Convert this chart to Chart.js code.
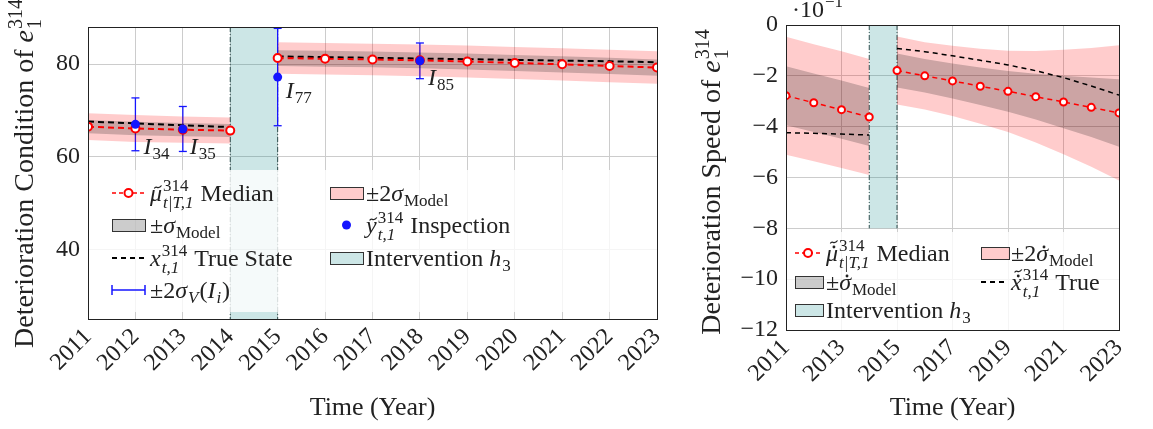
<!DOCTYPE html>
<html>
<head>
<meta charset="utf-8">
<script src="https://cdn.jsdelivr.net/npm/chart.js@4.4.0/dist/chart.umd.min.js"></script>
<style>
  html, body { margin: 0; padding: 0; background: #fff; width: 1153px; height: 429px; overflow: hidden; }
  canvas { position: absolute; top: 0; }
  #cond { left: 0; }
  #speed { left: 695px; }
</style>
</head>
<body>
<canvas id="cond" width="700" height="429"></canvas>
<canvas id="speed" width="458" height="429"></canvas>
<script>
// time axis shared by both panels
const years = [2011, 2012, 2013, 2014, 2015, 2016, 2017, 2018, 2019, 2020, 2021, 2022, 2023];
const interventionYears = [2014, 2015];
const SPLIT = 4; // first index after the intervention

// left panel: deterioration condition
const condMedian = [66.5, 66.1, 65.85, 65.65, 81.3, 81.15, 81.0, 80.8, 80.55, 80.25, 79.95, 79.6, 79.25];
const condTrue = [67.6, 67.2, 66.8, 66.4, 81.65, 81.5, 81.35, 81.2, 81.05, 80.9, 80.75, 80.6, 80.4];
const condSigma = [1.45, 1.45, 1.42, 1.4, 1.7, 1.7, 1.7, 1.72, 1.72, 1.73, 1.74, 1.75, 1.75];
const inspYears = [2012, 2013, 2015, 2018];
const inspValues = [67.0, 66.0, 77.2, 80.7];
const inspErr = [5.7, 4.85, 10.5, 3.85];
const inspNames = ['34', '35', '77', '85'];
const condYTicks = [40, 60, 80];
const condXTicks = years;

// right panel: deterioration speed (x 10^-1)
const speedMedian = [-2.78, -3.06, -3.33, -3.62, -1.79, -2.0, -2.2, -2.41, -2.61, -2.82, -3.03, -3.24, -3.46];
const speedTrue = [-4.24, -4.26, -4.29, -4.33, -0.92, -1.05, -1.21, -1.39, -1.57, -1.8, -2.07, -2.4, -2.76];
const speedSigma = [1.16, 1.15, 1.15, 1.14, 0.67, 0.66, 0.69, 0.74, 0.8, 0.9, 1.03, 1.17, 1.33];
const speedYTicks = [-12, -10, -8, -6, -4, -2, 0];
const speedXTicks = [2011, 2013, 2015, 2017, 2019, 2021, 2023];

const SERIF = '"Liberation Serif", "Times New Roman", serif';
const TXT = '#222';
const PINK = 'rgba(255,0,0,0.2)';
const GREY = 'rgba(0,0,0,0.2)';
const TEAL = 'rgba(0,128,128,0.2)';
const BLUE = 'rgb(20,20,255)';
const LEGEND_SIZE = 24;

const fontOf = (size, italic) => (italic ? 'italic ' : '') + size + 'px ' + SERIF;

// small accents (dot, tilde) stacked over a glyph
function accents(ctx, list, cx, top, size) {
  let yy = top;
  list.forEach(a => {
    if (a === 'dot') {
      ctx.beginPath();
      ctx.arc(cx, yy - 1.5, size * 0.06, 0, Math.PI * 2);
      ctx.fill();
      yy -= 5;
    } else {
      const w = size * 0.3;
      ctx.save();
      ctx.strokeStyle = ctx.fillStyle;
      ctx.lineWidth = 1.2;
      ctx.beginPath();
      ctx.moveTo(cx - w / 2, yy);
      ctx.bezierCurveTo(cx - w / 4, yy - 4, cx, yy + 2, cx + w / 2, yy - 3);
      ctx.stroke();
      ctx.restore();
      yy -= 5;
    }
  });
}

// text with stacked super/subscripts, returns its width
function rich(ctx, x, y, parts, size, dry) {
  const small = Math.round(size * 0.7);
  let cx = x;
  ctx.textAlign = 'left';
  ctx.textBaseline = 'alphabetic';
  parts.forEach(p => {
    if (p.t !== undefined) {
      ctx.font = fontOf(size, p.i);
      const w = ctx.measureText(p.t).width;
      if (!dry) {
        ctx.fillText(p.t, cx, y);
        if (p.acc) accents(ctx, p.acc, cx + w / 2 + size * 0.08, y - size * 0.52, size);
      }
      cx += w;
    } else {
      let w = 0;
      if (p.sup !== undefined) {
        ctx.font = fontOf(small, false);
        if (!dry) ctx.fillText(p.sup, cx + 1, y - size * 0.4);
        w = Math.max(w, ctx.measureText(p.sup).width);
      }
      if (p.sub !== undefined) {
        ctx.font = fontOf(small, p.subI);
        if (!dry) ctx.fillText(p.sub, cx + 1, y + size * (p.sup !== undefined ? 0.28 : 0.2));
        w = Math.max(w, ctx.measureText(p.sub).width);
      }
      cx += w + 2;
    }
  });
  return cx - x;
}

function seg(ctx, x1, y1, x2, y2) {
  ctx.beginPath();
  ctx.moveTo(x1, y1);
  ctx.lineTo(x2, y2);
  ctx.stroke();
}

function drawSymbol(ctx, kind, x, y, w, color) {
  ctx.save();
  if (kind === 'median') {
    ctx.strokeStyle = 'red';
    ctx.lineWidth = 1.5;
    ctx.setLineDash([4, 3]);
    seg(ctx, x, y, x + w, y);
    ctx.setLineDash([]);
    ctx.beginPath();
    ctx.arc(x + w / 2, y, 4, 0, Math.PI * 2);
    ctx.fillStyle = '#fff';
    ctx.fill();
    ctx.lineWidth = 2;
    ctx.stroke();
  } else if (kind === 'dash') {
    ctx.strokeStyle = '#000';
    ctx.lineWidth = 1.8;
    ctx.setLineDash([5, 4]);
    seg(ctx, x, y, x + w, y);
  } else if (kind === 'err') {
    ctx.strokeStyle = BLUE;
    ctx.lineWidth = 1.5;
    seg(ctx, x, y, x + w, y);
    seg(ctx, x, y - 5, x, y + 5);
    seg(ctx, x + w, y - 5, x + w, y + 5);
  } else if (kind === 'dot') {
    ctx.fillStyle = BLUE;
    ctx.beginPath();
    ctx.arc(x + w / 2, y, 4.5, 0, Math.PI * 2);
    ctx.fill();
  } else {
    ctx.fillStyle = color;
    ctx.fillRect(x, y - 6, w, 12);
    ctx.strokeStyle = '#333';
    ctx.lineWidth = 1;
    ctx.strokeRect(x + 0.5, y - 5.5, w, 12);
  }
  ctx.restore();
}

// intervention band, error bars, labels, legend, frame and y title
const deco = cfg => ({
  id: 'deco',
  beforeDatasetsDraw(chart) {
    const { ctx, chartArea: a, scales: { x, y } } = chart;
    const x1 = x.getPixelForValue(interventionYears[0]);
    const x2 = x.getPixelForValue(interventionYears[1]);
    const yb = cfg.bandBottom !== undefined ? y.getPixelForValue(cfg.bandBottom) : a.bottom;
    ctx.save();
    ctx.fillStyle = TEAL;
    ctx.fillRect(x1, a.top, x2 - x1, yb - a.top);
    ctx.strokeStyle = '#2f4f4f';
    ctx.lineWidth = 1;
    ctx.setLineDash([5, 2, 1, 2]);
    [x1, x2].forEach(px => seg(ctx, px, a.top, px, yb));
    ctx.setLineDash([]);
    if (cfg.errorBars) {
      ctx.strokeStyle = BLUE;
      ctx.lineWidth = 1.3;
      inspYears.forEach((yr, i) => {
        const px = x.getPixelForValue(yr);
        const top = y.getPixelForValue(inspValues[i] + inspErr[i]);
        const bot = y.getPixelForValue(inspValues[i] - inspErr[i]);
        seg(ctx, px, top, px, bot);
        seg(ctx, px - 4, top, px + 4, top);
        seg(ctx, px - 4, bot, px + 4, bot);
      });
    }
    ctx.restore();
  },
  afterDatasetsDraw(chart) {
    const { ctx, chartArea: a, scales: { x, y } } = chart;
    ctx.save();
    ctx.fillStyle = TXT;
    if (cfg.labelOffsets) {
      inspYears.forEach((yr, i) => {
        const [dx, dy] = cfg.labelOffsets[i];
        rich(ctx, x.getPixelForValue(yr) + dx, y.getPixelForValue(inspValues[i]) + dy,
          [{ t: 'I', i: 1 }, { sub: inspNames[i] }], 24);
      });
    }
    const [bx, by, bw, bh] = cfg.legendBox;
    ctx.fillStyle = 'rgba(255,255,255,0.8)';
    ctx.fillRect(bx, by, bw, bh);
    cfg.legend.forEach(it => {
      drawSymbol(ctx, it.sym, it.x, it.y, it.w, it.color);
      ctx.fillStyle = TXT;
      rich(ctx, it.tx, it.y + 8, it.parts, LEGEND_SIZE);
    });
    ctx.strokeStyle = '#222';
    ctx.lineWidth = 1;
    ctx.strokeRect(a.left + 0.5, a.top + 0.5, a.right - a.left, a.bottom - a.top);
    // rotated y title
    ctx.fillStyle = TXT;
    const w = rich(ctx, 0, 0, cfg.title, 28, true);
    ctx.translate(cfg.titleX, (a.top + a.bottom) / 2 + (cfg.titleShift || 0));
    ctx.rotate(-Math.PI / 2);
    rich(ctx, -w / 2, 28 * 0.3, cfg.title, 28);
    ctx.restore();
    if (cfg.extra) {
      ctx.save();
      ctx.fillStyle = TXT;
      rich(ctx, cfg.extra.x, cfg.extra.y, cfg.extra.parts, 24);
      ctx.restore();
    }
  }
});

const pts = (vals, from, to) => years.slice(from, to).map((x, i) => ({ x, y: vals[from + i] }));
const shifted = (vals, sig, k) => vals.map((v, i) => v + k * sig[i]);

function buildDatasets(median, truth, sigma, st) {
  const parts = [[0, SPLIT], [SPLIT, years.length]];
  const ds = [];
  parts.forEach(([a, b]) => ds.push({
    data: pts(median, a, b), borderColor: 'red', borderWidth: st.lw, borderDash: st.dash,
    pointRadius: st.r, pointBorderWidth: 2, pointBackgroundColor: '#fff', pointBorderColor: 'red', fill: false
  }));
  parts.forEach(([a, b]) => ds.push({
    data: pts(truth, a, b), borderColor: '#000', borderWidth: st.lw, borderDash: st.dash, pointRadius: 0, fill: false
  }));
  const band = (k, color) => parts.forEach(([a, b]) => {
    ds.push({ data: pts(shifted(median, sigma, k), a, b), borderColor: 'transparent', pointRadius: 0, backgroundColor: color, fill: '+1' });
    ds.push({ data: pts(shifted(median, sigma, -k), a, b), borderColor: 'transparent', pointRadius: 0, fill: false });
  });
  band(1, GREY);
  band(2, PINK);
  return ds;
}

function axisX(tickVals, height) {
  return {
    type: 'linear', min: 2011, max: 2023,
    afterBuildTicks: s => { s.ticks = tickVals.map(value => ({ value })); },
    afterFit: s => { s.height = height; s.paddingLeft = 0; s.paddingRight = 0; },
    ticks: { autoSkip: false, minRotation: 45, maxRotation: 45, padding: 4, color: TXT,
      font: { family: SERIF, size: 24 }, callback: v => String(v) },
    grid: { color: '#cccccc', drawTicks: false },
    border: { display: false },
    title: { display: true, text: 'Time (Year)', color: TXT, font: { family: SERIF, size: 26 }, padding: { top: 0, bottom: 5 } }
  };
}

function axisY(min, max, tickVals, width) {
  return {
    type: 'linear', min, max,
    afterBuildTicks: s => { s.ticks = tickVals.map(value => ({ value })); },
    afterFit: s => { s.width = width; s.paddingTop = 0; s.paddingBottom = 0; },
    ticks: { padding: 8, color: TXT, font: { family: SERIF, size: 24 },
      callback: v => (v < 0 ? '\u2212' + (-v) : String(v)) },
    grid: { color: '#cccccc', drawTicks: false },
    border: { display: false }
  };
}

const baseOptions = (pad, xAxis, yAxis) => ({
  responsive: false, animation: false, devicePixelRatio: 1, events: [],
  layout: { padding: pad, autoPadding: false },
  plugins: { legend: { display: false }, tooltip: { enabled: false } },
  scales: { x: xAxis, y: yAxis }
});

const sigmaSub = (dot, two) => [{ t: two ? '\u00b12' : '\u00b1' }, { t: '\u03c3', i: 1, acc: dot ? ['dot'] : undefined }, { sub: 'Model' }];
const intervention = [{ t: 'Intervention ' }, { t: 'h', i: 1 }, { sub: '3' }];

// left chart
const condData = [{
  data: inspYears.map((x, i) => ({ x, y: inspValues[i] })), showLine: false,
  pointRadius: 4.5, pointBorderWidth: 0, pointBackgroundColor: BLUE
}].concat(buildDatasets(condMedian, condTrue, condSigma, { lw: 2, dash: [6, 4], r: 4 }));

new Chart(document.getElementById('cond'), {
  type: 'line',
  data: { datasets: condData },
  options: baseOptions({ top: 27, right: 43, left: 0, bottom: 0 }, axisX(condXTicks, 110), axisY(25, 88, condYTicks, 88)),
  plugins: [deco({
    errorBars: true,
    labelOffsets: [[8, 30], [7, 25], [8, 21], [8, 24]],
    legendBox: [88, 170, 569, 142],
    titleX: 25,
    title: [{ t: 'Deterioration Condition of ' }, { t: 'e', i: 1 }, { sup: '314', sub: '1' }],
    legend: [
      { sym: 'median', x: 112, y: 193, w: 33, tx: 150, parts: [{ t: '\u03bc', i: 1, acc: ['tilde'] }, { sup: '314', sub: 't|T,1', subI: 1 }, { t: ' Median' }] },
      { sym: 'box', color: GREY, x: 112, y: 225, w: 33, tx: 150, parts: sigmaSub(false, false) },
      { sym: 'dash', x: 112, y: 258, w: 33, tx: 150, parts: [{ t: 'x', i: 1 }, { sup: '314', sub: 't,1', subI: 1 }, { t: ' True State' }] },
      { sym: 'err', x: 112, y: 290, w: 33, tx: 150, parts: [{ t: '\u00b12' }, { t: '\u03c3', i: 1 }, { sub: 'V', subI: 1 }, { t: '(' }, { t: 'I', i: 1 }, { sub: 'i', subI: 1 }, { t: ')' }] },
      { sym: 'box', color: PINK, x: 330, y: 193, w: 33, tx: 366, parts: sigmaSub(false, true) },
      { sym: 'dot', x: 330, y: 225, w: 33, tx: 366, parts: [{ t: 'y', i: 1, acc: ['tilde'] }, { sup: '314', sub: 't,1', subI: 1 }, { t: ' Inspection' }] },
      { sym: 'box', color: TEAL, x: 330, y: 258, w: 33, tx: 366, parts: intervention }
    ]
  })]
});

// right chart
new Chart(document.getElementById('speed'), {
  type: 'line',
  data: { datasets: buildDatasets(speedMedian, speedTrue, speedSigma, { lw: 1.5, dash: [5, 4], r: 3.5 }) },
  options: baseOptions({ top: 25, right: 34, left: 0, bottom: 0 }, axisX(speedXTicks, 99), axisY(-12, 0, speedYTicks, 91)),
  plugins: [deco({
    bandBottom: -8,
    legendBox: [91, 232, 333, 98],
    titleX: 17,
    titleShift: 4,
    title: [{ t: 'Deterioration Speed of ' }, { t: 'e', i: 1 }, { sup: '314', sub: '1' }],
    extra: { x: 97, y: 17, parts: [{ t: '\u00b710' }, { sup: '\u22121' }] },
    legend: [
      { sym: 'median', x: 100, y: 253, w: 26, tx: 131, parts: [{ t: '\u03bc', i: 1, acc: ['dot', 'tilde'] }, { sup: '314', sub: 't|T,1', subI: 1 }, { t: ' Median' }] },
      { sym: 'box', color: GREY, x: 100, y: 282, w: 28, tx: 131, parts: sigmaSub(true, false) },
      { sym: 'box', color: TEAL, x: 100, y: 310, w: 28, tx: 131, parts: intervention },
      { sym: 'box', color: PINK, x: 286, y: 253, w: 28, tx: 316, parts: sigmaSub(true, true) },
      { sym: 'dash', x: 286, y: 282, w: 26, tx: 316, parts: [{ t: 'x', i: 1, acc: ['dot', 'tilde'] }, { sup: '314', sub: 't,1', subI: 1 }, { t: ' True' }] }
    ]
  })]
});
</script>
</body>
</html>
